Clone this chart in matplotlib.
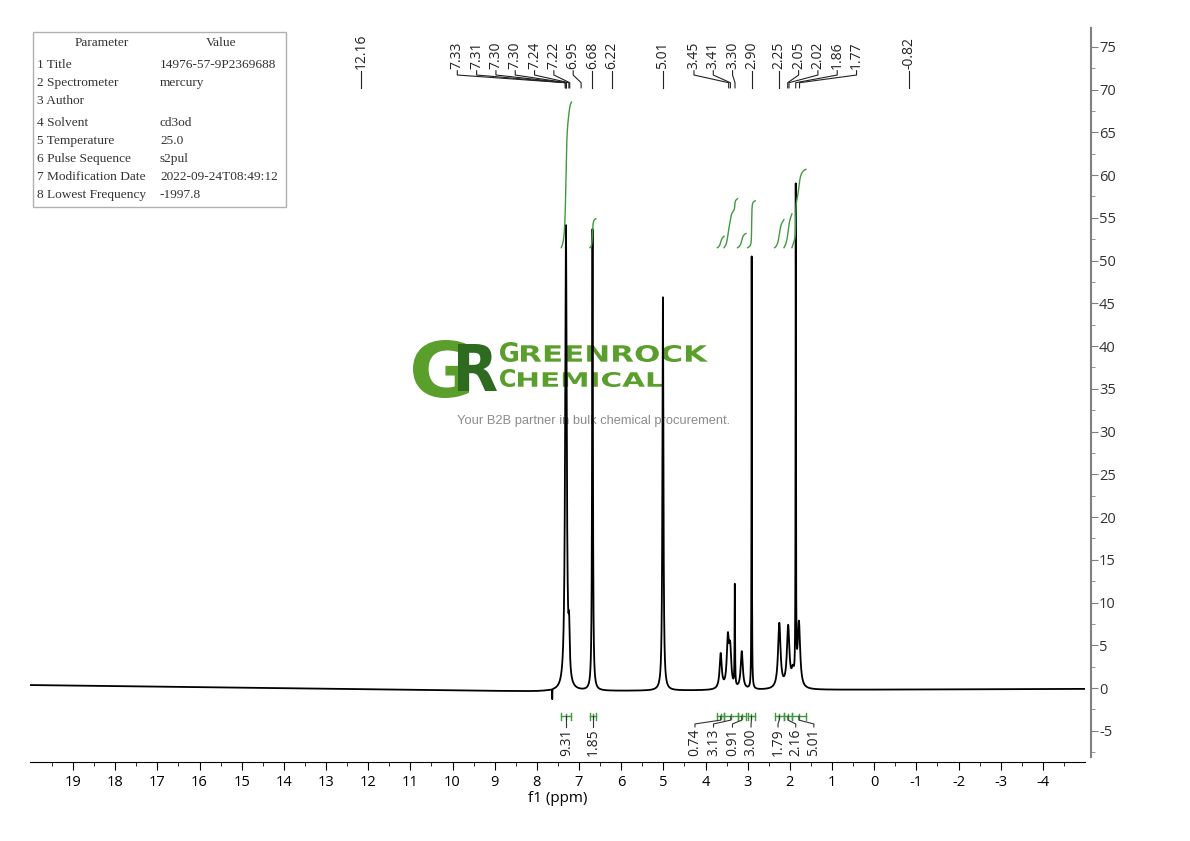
import numpy as np
import matplotlib
matplotlib.use('Agg')
import matplotlib.pyplot as plt
from matplotlib.textpath import TextPath
from matplotlib.font_manager import FontProperties
from matplotlib.patches import PathPatch, Rectangle
from matplotlib.transforms import Affine2D

plt.rcParams['axes.unicode_minus'] = False
plt.rcParams['font.family'] = ['Open Sans', 'DejaVu Sans']

# peaks of the spectrum (ppm, height, half width)
peak_ppm = [7.31, 7.235, 6.68, 5.01, 3.64, 3.47, 3.415, 3.305, 3.14, 2.905,
            2.25, 2.04, 1.93, 1.86, 1.785, 7.635]
peak_height = [54.3, 5.0, 54.0, 46.0, 4.1, 5.6, 4.3, 11.8, 4.4, 50.6,
               7.6, 7.1, 1.5, 57.3, 7.6, -1.2]
peak_width = [0.022, 0.016, 0.011, 0.014, 0.03, 0.03, 0.03, 0.006, 0.03, 0.005,
              0.035, 0.035, 0.035, 0.005, 0.035, 0.002]

# slow baseline drift
base_ppm = [-5.0, 0.5, 4.5, 8.0, 20.0]
base_val = [-0.1, -0.2, -0.3, -0.4, 0.35]

# peak picking labels
label_ppm = [12.16, 7.33, 7.31, 7.30, 7.30, 7.24, 7.22, 6.95, 6.68, 6.22, 5.01,
             3.45, 3.41, 3.30, 2.90, 2.25, 2.05, 2.02, 1.86, 1.77, -0.82]
label_text = ['12.16', '7.33', '7.31', '7.30', '7.30', '7.24', '7.22', '6.95', '6.68',
              '6.22', '5.01', '3.45', '3.41', '3.30', '2.90', '2.25', '2.05', '2.02',
              '1.86', '1.77', '-0.82']
label_x = [12.16, 9.886, 9.428, 8.97, 8.512, 8.054, 7.596, 7.138, 6.68, 6.22, 5.01,
           4.274, 3.816, 3.358, 2.90, 2.25, 1.792, 1.334, 0.876, 0.418, -0.82]

# integrals
int_hi = [7.42, 6.74, 3.72, 3.56, 3.24, 3.00, 2.36, 2.14, 1.95]
int_lo = [7.18, 6.60, 3.56, 3.24, 3.04, 2.82, 2.14, 1.95, 1.62]
int_val = [9.31, 1.85, 0.74, 3.13, 0.91, 3.00, 1.79, 2.16, 5.01]
int_label_x = [7.30, 6.67, 4.25, 3.81, 3.36, 2.92, 2.28, 1.86, 1.43]

# parameter table
params = ['1 Title', '2 Spectrometer', '3 Author', '4 Solvent', '5 Temperature',
          '6 Pulse Sequence', '7 Modification Date', '8 Lowest Frequency']
values = ['14976-57-9P2369688', 'mercury', '', 'cd3od', '25.0', 's2pul',
          '2022-09-24T08:49:12', '-1997.8']

ppm = np.linspace(20.02, -5.0, 30000)
peaks_only = np.zeros_like(ppm)
for p, h, g in zip(peak_ppm, peak_height, peak_width):
    peaks_only += h * g**2 / ((ppm - p)**2 + g**2)
spec = peaks_only + np.interp(ppm, base_ppm, base_val)

fig = plt.figure(figsize=(11.9, 8.41), dpi=100)

# overlay in pixel coordinates for the watermark and the table
wm = fig.add_axes([0, 0, 1, 1], zorder=0)
wm.set_xlim(0, 1190)
wm.set_ylim(841, 0)
wm.axis('off')


def stretched(s, x0, x1, ybot, h, color, weight='normal'):
    fp = FontProperties(family='DejaVu Sans', weight=weight)
    tp = TextPath((0, 0), s, size=1, prop=fp)
    bb = tp.get_extents()
    tr = Affine2D().translate(-bb.x0, -bb.y0).scale((x1 - x0) / bb.width, -h / bb.height).translate(x0, ybot)
    wm.add_patch(PathPatch(tr.transform_path(tp), facecolor=color, lw=0))


green = '#5a9e2b'
dark = '#2e6a1f'
stretched('G', 413, 469, 398, 58, green, 'bold')
stretched('R', 458, 497, 391, 47, dark, 'bold')
stretched('G', 500, 518, 362, 20, green, 'bold')
stretched('REENROCK', 521, 708, 362, 17, green, 'bold')
stretched('C', 500, 515, 387, 18, green, 'bold')
stretched('HEMICAL', 518, 663, 387, 15, green, 'bold')
wm.text(594, 421, 'Your B2B partner in bulk chemical procurement.', ha='center', va='center',
        fontsize=9.3, color='#8c8c8c', family='Liberation Sans')

wm.add_patch(Rectangle((33, 32), 253, 175, fill=False, edgecolor='#b0b0b0', lw=1))
tfont = dict(family='Liberation Serif', fontsize=9.6, color='#333333', va='center')
wm.text(102, 43, 'Parameter', ha='center', **tfont)
wm.text(221, 43, 'Value', ha='center', **tfont)
row_y = [65, 83, 101, 123, 141, 159, 177, 195]
for yy, a, b in zip(row_y, params, values):
    wm.text(37, yy, a, ha='left', **tfont)
    wm.text(160, yy, b, ha='left', **tfont)

# main spectrum axes
ax = fig.add_axes([30 / 1190, 1 - 762 / 841, 1055 / 1190, 734 / 841], zorder=1)
ax.set_facecolor('none')
ax.plot(ppm, spec, color='black', lw=1.3)
ax.set_xlim(20.02, -5.0)
ax.set_ylim(-8.65, 77.2)

# integral curves and brackets
igreen = '#3f9a3f'
for hi, lo, v, lx in zip(int_hi, int_lo, int_val, int_label_x):
    m = (ppm <= hi) & (ppm >= lo)
    cum = np.cumsum(peaks_only[m])
    cum = cum / cum[-1]
    ax.plot(ppm[m], 51.5 + cum * v * 1.83, color=igreen, lw=1)
    ax.plot([hi, lo], [-3.3, -3.3], color=igreen, lw=1)
    ax.plot([hi, hi], [-2.9, -3.7], color=igreen, lw=1)
    ax.plot([lo, lo], [-2.9, -3.7], color=igreen, lw=1)
    c = (hi + lo) / 2
    ax.plot([c, c], [-3.0, -3.6], color=igreen, lw=1)
    ax.plot([c, c, lx, lx], [-3.3, -3.75, -4.2, -4.55], color='#333333', lw=0.8)
    ax.text(lx, -4.7, f'{v:.2f}', rotation=90, ha='center', va='top', fontsize=10, color='#222222')

# peak labels with leader lines
for p, t, lx in zip(label_ppm, label_text, label_x):
    ax.plot([lx, lx, p, p], [72.2, 71.7, 70.8, 70.2], color='#222222', lw=0.8)
    ax.text(lx, 72.4, t, rotation=90, ha='center', va='bottom', fontsize=10, color='#222222')

ax.set_xticks(np.arange(19, -5, -1))
ax.set_xticks(np.arange(19.5, -5, -0.5), minor=True)
ax.set_xticklabels([str(int(v)) for v in np.arange(19, -5, -1)])
ax.set_yticks(np.arange(-5, 80, 5))
ax.set_yticks(np.arange(-7.5, 77.5, 2.5), minor=True)
ax.set_xlabel('f1 (ppm)', fontsize=11, labelpad=1)

ax.spines['top'].set_visible(False)
ax.spines['left'].set_visible(False)
ax.spines['right'].set_position(('outward', 4))
ax.spines['right'].set_color('#808080')
ax.spines['right'].set_linewidth(1.5)
ax.spines['right'].set_bounds(-8.1, 77.2)
ax.yaxis.tick_right()
ax.tick_params(axis='x', which='major', direction='out', length=6, labelsize=10.5, pad=3)
ax.tick_params(axis='x', which='minor', direction='out', length=3)
ax.tick_params(axis='y', which='major', direction='out', length=5, color='#808080',
               labelsize=10.5, labelcolor='#333333', pad=1)
ax.tick_params(axis='y', which='minor', direction='out', length=3, color='#808080')

fig.savefig('out.png', dpi=100)
